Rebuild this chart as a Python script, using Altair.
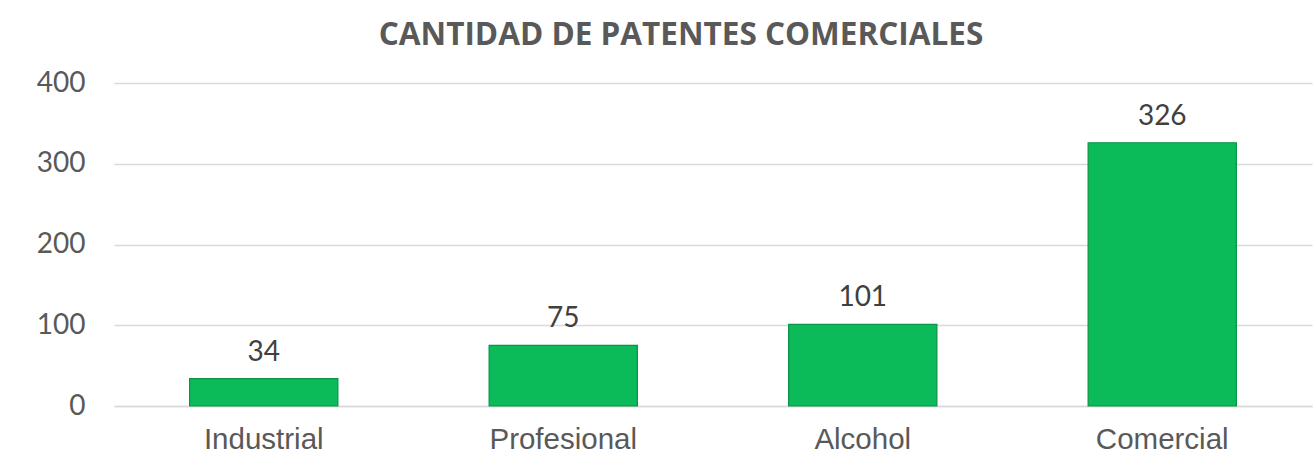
import altair as alt
import pandas as pd

categories = ["Industrial", "Profesional", "Alcohol", "Comercial"]
values = [34, 75, 101, 326]
y_ticks = [0, 100, 200, 300, 400]

df = pd.DataFrame({"cat": categories, "val": values})

base = alt.Chart(df).encode(
    x=alt.X("cat:N", sort=categories, title=None,
            scale=alt.Scale(paddingInner=0.505, paddingOuter=0.2525),
            axis=alt.Axis(labelAngle=0, labelFont="Liberation Sans", labelFontSize=29.5,
                          labelColor="#595959", labelPadding=19, ticks=False,
                          domain=True, domainColor="#d9d9d9", domainWidth=1.5, grid=False)),
    y=alt.Y("val:Q", title=None, scale=alt.Scale(domain=[0, 400], nice=False),
            axis=alt.Axis(values=y_ticks, labelFont="Lato", labelFontSize=28,
                          labelColor="#595959", labelPadding=29, ticks=False, domain=False,
                          grid=True, gridColor="#d9d9d9", gridWidth=1.5)),
)

bars = base.mark_bar(color="#0bba58", stroke="#0a9347", strokeWidth=1.2)
labels = base.mark_text(dy=-18, baseline="alphabetic", font="Lato", fontSize=28,
                        color="#404040").encode(text="val:Q")

chart = (bars + labels).properties(
    width=1198, height=323,
    background="white",
    title=alt.TitleParams("CANTIDAD DE PATENTES COMERCIALES", font="Open Sans",
                          fontSize=31.5, fontWeight="bold", color="#595959",
                          anchor="middle", dx=-32, offset=18),
    autosize=alt.AutoSizeParams(type="none"),
    padding={"left": 114, "top": 83, "right": 3, "bottom": 53},
).configure_view(strokeWidth=0, stroke="transparent")

chart.save("out.html", embed_options={"renderer": "svg", "actions": False})
